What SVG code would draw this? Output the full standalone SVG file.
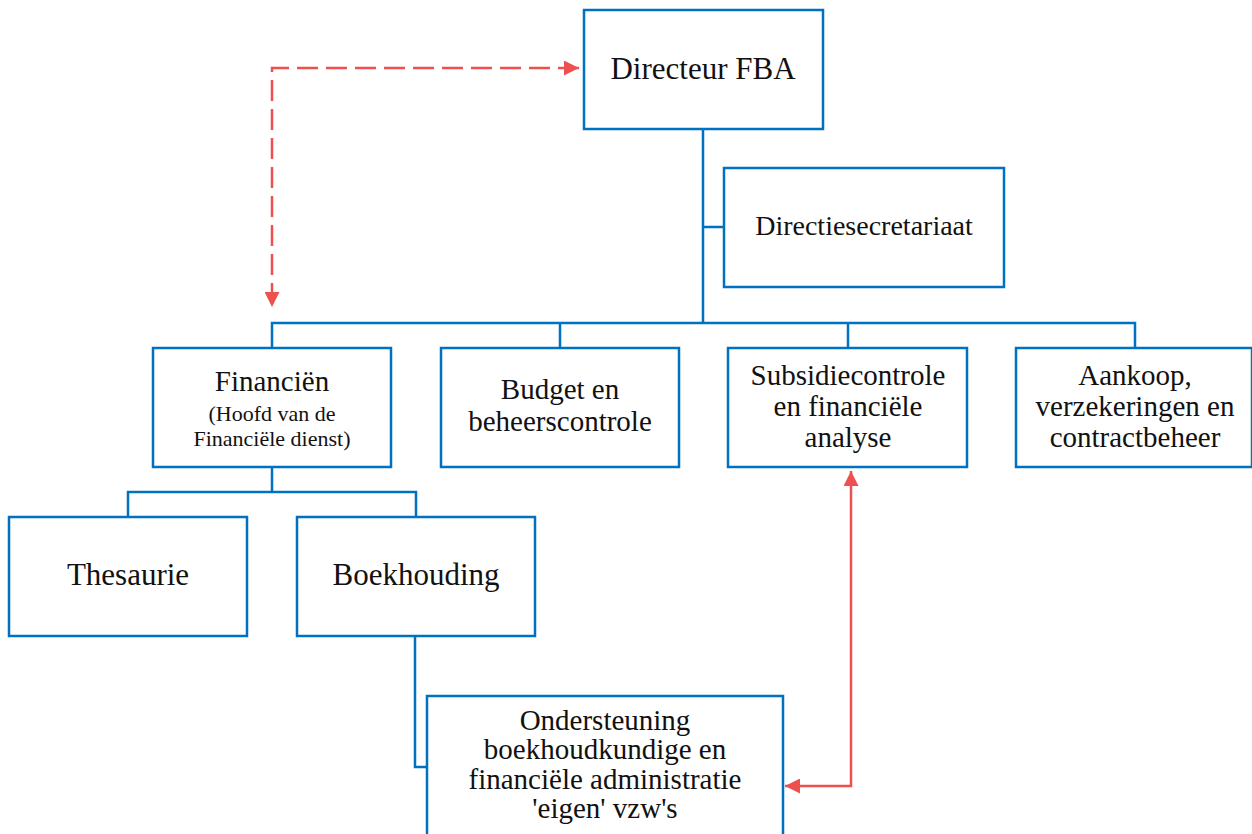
<svg xmlns="http://www.w3.org/2000/svg" width="1252" height="834" viewBox="0 0 1252 834">
<style>
.box{fill:#fff;stroke:#0070C0;stroke-width:2.5}
.ln{fill:none;stroke:#0070C0;stroke-width:2.5}
.red{fill:none;stroke:#EE5050;stroke-width:2.5}
.dash{stroke-dasharray:21 8}
text{font-family:"Liberation Serif","Times New Roman",serif;fill:#111;text-anchor:middle;font-size:29px}
.sm{font-size:22px}
</style>
<defs>
<marker id="ah" viewBox="0 0 10 10" refX="10" refY="5" markerWidth="15" markerHeight="15" markerUnits="userSpaceOnUse" orient="auto-start-reverse">
<path d="M0,0 L10,5 L0,10 z" fill="#EE5050"/>
</marker>
</defs>
<g id="connectors">
<path class="ln" d="M703,130 V323 M703,227 H724 M272,348 V323 H1135 V348 M560,323 V348 M848,323 V348"/>
<path class="ln" d="M272,467 V492 M128,517 V492 H416 V517"/>
<path class="ln" d="M415,636 V767 H427"/>
<path class="red dash" d="M579,68 H272 V307" marker-start="url(#ah)" marker-end="url(#ah)"/>
<path class="red" d="M851,471 V786 H785" marker-start="url(#ah)" marker-end="url(#ah)"/>
</g>
<g id="directeur"><rect class="box" x="584" y="10" width="239" height="119"/><text x="703" y="79" style="font-size:31px">Directeur FBA</text></g>
<g id="secretariaat"><rect class="box" x="724" y="168" width="280" height="119"/><text x="864" y="235" style="font-size:28px">Directiesecretariaat</text></g>
<g id="financien"><rect class="box" x="153" y="348" width="238" height="119"/><text x="272" y="391">Financiën</text><text class="sm" x="272" y="421">(Hoofd van de</text><text class="sm" x="272" y="446">Financiële dienst)</text></g>
<g id="budget"><rect class="box" x="441" y="348" width="238" height="119"/><text x="560" y="399">Budget en</text><text x="560" y="431">beheerscontrole</text></g>
<g id="subsidie"><rect class="box" x="728" y="348" width="239" height="119"/><text x="848" y="385">Subsidiecontrole</text><text x="848" y="416">en financiële</text><text x="848" y="447">analyse</text></g>
<g id="aankoop"><rect class="box" x="1016" y="348" width="236" height="119"/><text x="1135" y="385">Aankoop,</text><text x="1135" y="416">verzekeringen en</text><text x="1135" y="447">contractbeheer</text></g>
<g id="thesaurie"><rect class="box" x="9" y="517" width="238" height="119"/><text x="128" y="585" style="font-size:31px">Thesaurie</text></g>
<g id="boekhouding"><rect class="box" x="297" y="517" width="238" height="119"/><text x="416" y="585" style="font-size:31px">Boekhouding</text></g>
<g id="ondersteuning"><rect class="box" x="427" y="696" width="356" height="150"/><g style="font-size:26px"><text x="605" y="730">Ondersteuning</text><text x="605" y="759">boekhoudkundige en</text><text x="605" y="789">financiële administratie</text><text x="605" y="818">'eigen' vzw's</text></g></g>
</svg>
